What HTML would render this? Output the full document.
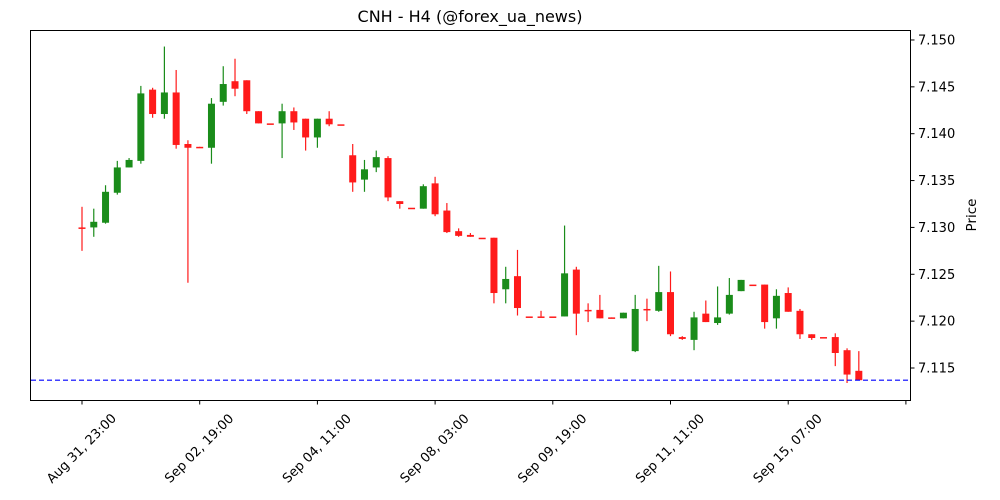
<!DOCTYPE html>
<html><head><meta charset="utf-8"><style>
body{margin:0;background:#fff}
svg{display:block;font-family:"DejaVu Sans","Liberation Sans",sans-serif}
</style></head><body>
<svg id="chart" width="1000" height="500">
<rect width="1000" height="500" fill="#fff"/>
<text x="470" y="22" font-size="16" text-anchor="middle">CNH - H4 (@forex_ua_news)</text>
<text transform="translate(976,215) rotate(-90)" font-size="13.5" text-anchor="middle">Price</text>
<g id="marks"></g>
<rect x="30.5" y="30.5" width="880" height="370" fill="none" stroke="#000" stroke-width="1"/>
<g id="axes"></g>
</svg>
<script>
const opens=[7.1300,7.1300,7.1305,7.1337,7.1364,7.1371,7.1447,7.1421,7.1444,7.1389,7.1386,7.1385,7.1434,7.1456,7.1457,7.1424,7.1411,7.1411,7.1424,7.1416,7.1396,7.1416,7.1410,7.1377,7.1351,7.1364,7.1374,7.1328,7.1321,7.1320,7.1347,7.1318,7.1296,7.1292,7.1289,7.1289,7.1234,7.1248,7.1205,7.1205,7.1205,7.1205,7.1255,7.1212,7.1212,7.1204,7.1203,7.1168,7.1213,7.1211,7.1231,7.1183,7.1180,7.1208,7.1198,7.1208,7.1232,7.1239,7.1239,7.1203,7.1230,7.1211,7.1186,7.1183,7.1183,7.1169,7.1147];
const highs=[7.1322,7.1320,7.1345,7.1371,7.1374,7.1451,7.1449,7.1493,7.1468,7.1393,7.1386,7.1438,7.1472,7.1480,7.1457,7.1424,7.1411,7.1432,7.1428,7.1416,7.1416,7.1424,7.1410,7.1389,7.1372,7.1382,7.1376,7.1328,7.1321,7.1346,7.1354,7.1326,7.1299,7.1294,7.1289,7.1289,7.1258,7.1276,7.1205,7.1211,7.1205,7.1302,7.1258,7.1219,7.1228,7.1204,7.1209,7.1228,7.1224,7.1259,7.1253,7.1184,7.1210,7.1222,7.1237,7.1246,7.1244,7.1239,7.1239,7.1234,7.1236,7.1213,7.1186,7.1183,7.1187,7.1171,7.1168];
const lows=[7.1275,7.1290,7.1304,7.1335,7.1364,7.1368,7.1417,7.1416,7.1384,7.1241,7.1385,7.1368,7.1430,7.1440,7.1421,7.1411,7.1411,7.1374,7.1404,7.1382,7.1385,7.1408,7.1410,7.1338,7.1338,7.1359,7.1328,7.1320,7.1321,7.1320,7.1312,7.1294,7.1290,7.1290,7.1289,7.1219,7.1219,7.1206,7.1205,7.1205,7.1205,7.1205,7.1185,7.1199,7.1203,7.1203,7.1203,7.1167,7.1200,7.1210,7.1184,7.1180,7.1169,7.1199,7.1196,7.1207,7.1232,7.1239,7.1192,7.1192,7.1210,7.1181,7.1180,7.1183,7.1152,7.1134,7.1137];
const closes=[7.1300,7.1306,7.1338,7.1364,7.1372,7.1443,7.1421,7.1444,7.1388,7.1385,7.1385,7.1432,7.1453,7.1448,7.1424,7.1411,7.1411,7.1424,7.1412,7.1396,7.1416,7.1410,7.1410,7.1348,7.1362,7.1375,7.1332,7.1325,7.1321,7.1344,7.1314,7.1295,7.1291,7.1290,7.1289,7.1230,7.1245,7.1214,7.1205,7.1205,7.1205,7.1251,7.1208,7.1212,7.1203,7.1203,7.1209,7.1213,7.1213,7.1231,7.1186,7.1181,7.1204,7.1199,7.1204,7.1228,7.1244,7.1239,7.1199,7.1227,7.1210,7.1186,7.1182,7.1183,7.1166,7.1143,7.1137];
const xTickIdx=[0,10,20,30,40,50,60,70];
const xTickLabels=["Aug 31, 23:00","Sep 02, 19:00","Sep 04, 11:00","Sep 08, 03:00","Sep 09, 19:00","Sep 11, 11:00","Sep 15, 07:00",""];
const yTicks=[7.115,7.120,7.125,7.130,7.135,7.140,7.145,7.150];
const refLevel=7.1137;

const NS="http://www.w3.org/2000/svg";
const X=i=>82+11.77*i;
const Y=p=>368-(p-7.115)*9372;
function mk(tag,attrs,parent){const e=document.createElementNS(NS,tag);for(const k in attrs)e.setAttribute(k,attrs[k]);parent.appendChild(e);return e;}
const marks=document.getElementById('marks');
const axes=document.getElementById('axes');
for(let i=0;i<opens.length;i++){
  const up=closes[i]>opens[i];
  const col=up?'#1a8c1a':'#ff1a1a';
  const g=mk('g',{},marks);
  
  
  mk('line',{x1:X(i),x2:X(i),y1:Y(highs[i]),y2:Y(lows[i]),stroke:col,'stroke-width':1.2},g);
  const top=Y(Math.max(opens[i],closes[i])),bot=Y(Math.min(opens[i],closes[i]));
  mk('rect',{x:X(i)-3.5,y:top,width:7,height:Math.max(bot-top,1.5),fill:col},g);
}
const ref=mk('line',{x1:31,x2:910,y1:Y(refLevel),y2:Y(refLevel),stroke:'#0000ff','stroke-width':1.2,'stroke-dasharray':'5,3'},marks);


xTickIdx.forEach((ix,k)=>{
  const x=X(ix);
  mk('line',{x1:x,x2:x,y1:400.5,y2:404.5,stroke:'#000'},axes);
  if(xTickLabels[k]){
    const t=mk('text',{transform:`translate(${x},${449}) rotate(-45)`,'font-size':13,'text-anchor':'middle','dominant-baseline':'middle'},axes);
    t.textContent=xTickLabels[k];
    
    
  }
});
yTicks.forEach(v=>{
  const y=Y(v);
  mk('line',{x1:910.5,x2:914.5,y1:y,y2:y,stroke:'#000'},axes);
  const t=mk('text',{x:918,y:y+4.5,'font-size':13},axes);
  t.textContent=v.toFixed(3);
  
  
});
</script>
</body></html>
